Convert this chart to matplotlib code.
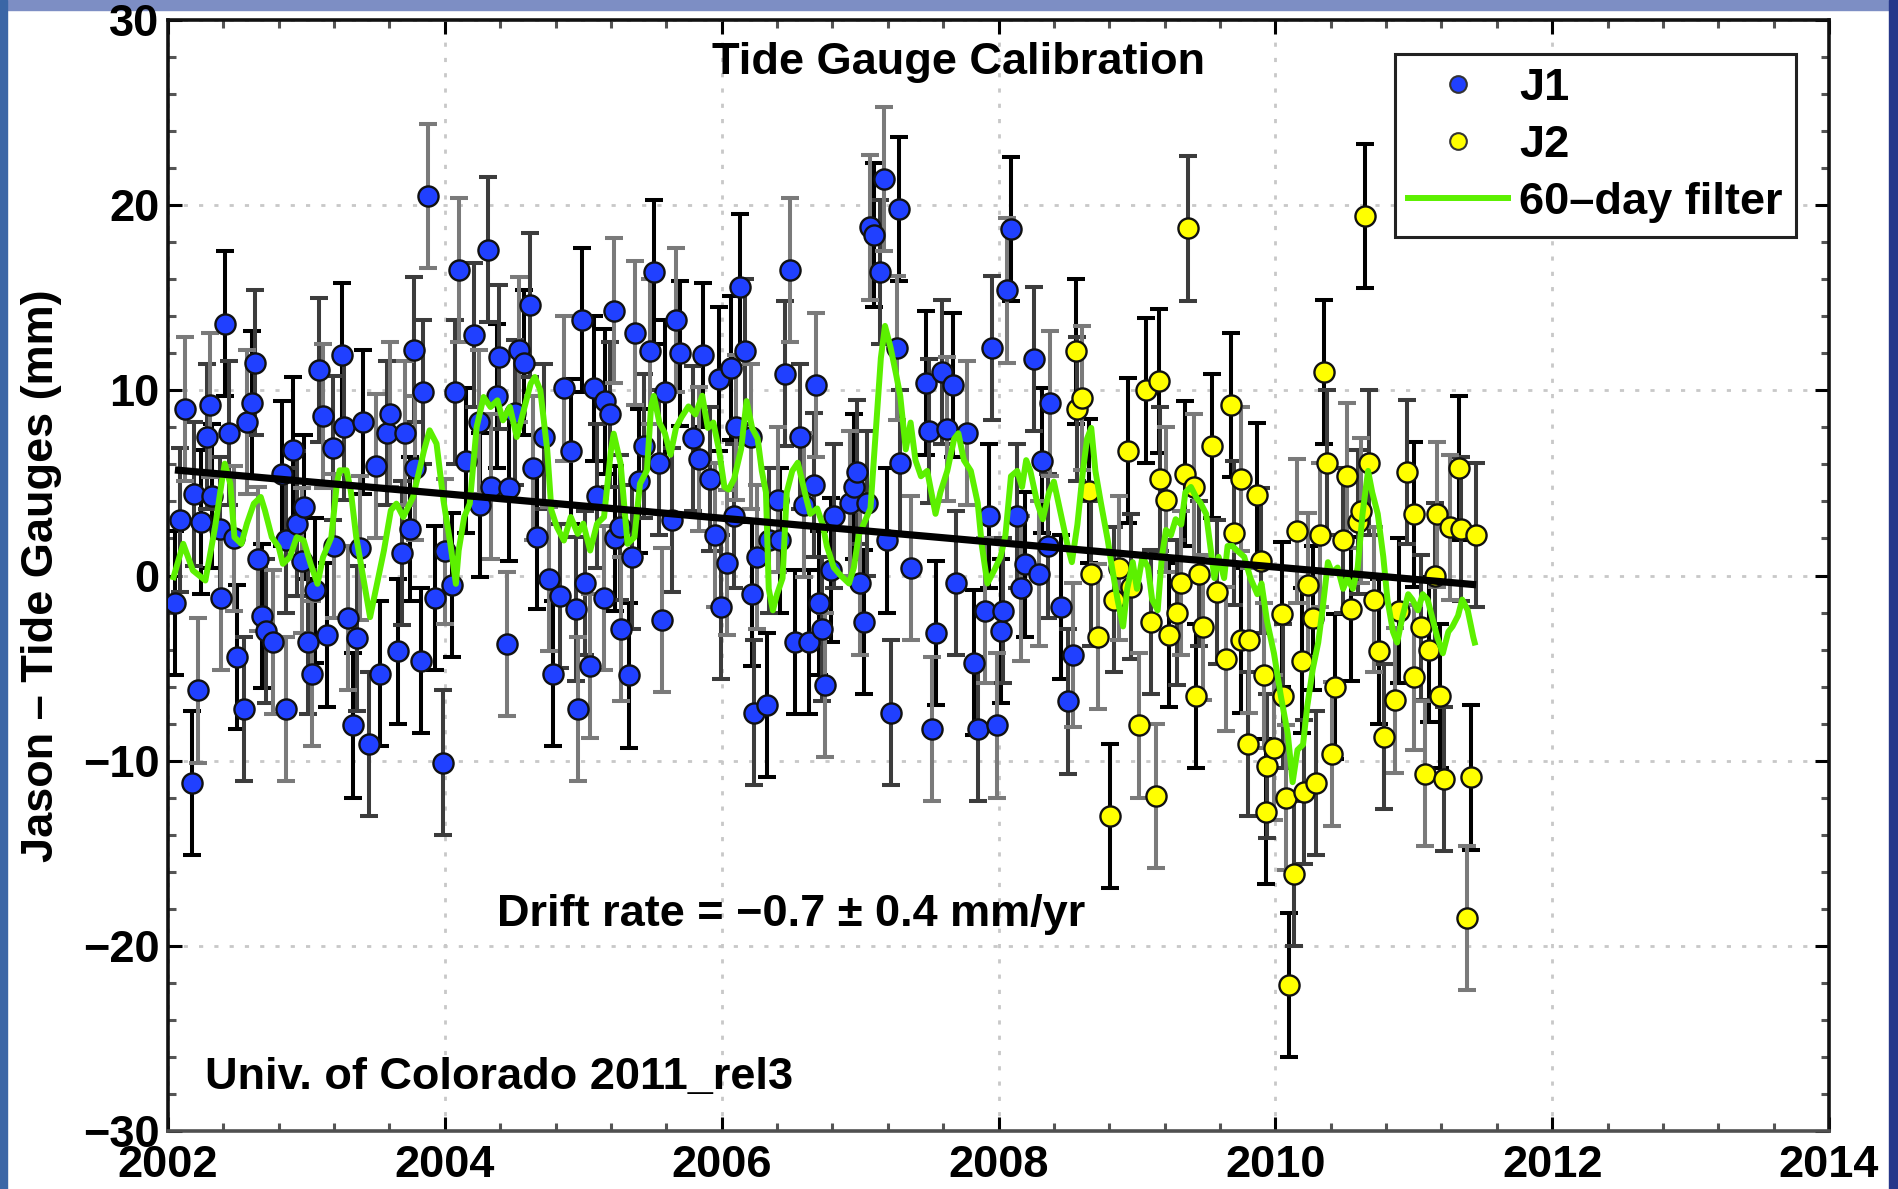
import matplotlib
matplotlib.use("Agg")
import matplotlib.pyplot as plt
from matplotlib.patches import Rectangle
from matplotlib.lines import Line2D
from matplotlib.ticker import MultipleLocator

# ---------------- data ----------------
j1_year = [2002.05, 2002.09, 2002.12, 2002.17, 2002.19, 2002.22, 2002.24, 2002.28, 2002.30, 2002.32,
           2002.375, 2002.385, 2002.41, 2002.44, 2002.48, 2002.50, 2002.55, 2002.57, 2002.61, 2002.63,
           2002.65, 2002.68, 2002.71, 2002.76, 2002.82, 2002.85, 2002.855, 2002.90, 2002.93, 2002.965,
           2002.98, 2003.01, 2003.04, 2003.06, 2003.09, 2003.12, 2003.15, 2003.19, 2003.20, 2003.255,
           2003.27, 2003.30, 2003.335, 2003.365, 2003.39, 2003.41, 2003.45, 2003.50, 2003.53, 2003.58,
           2003.605, 2003.665, 2003.69, 2003.715, 2003.75, 2003.775, 2003.785, 2003.825, 2003.845, 2003.88,
           2003.93, 2003.99, 2004.00, 2004.05, 2004.07, 2004.10, 2004.155, 2004.21, 2004.245, 2004.255,
           2004.315, 2004.33, 2004.375, 2004.39, 2004.45, 2004.46, 2004.51, 2004.535, 2004.575, 2004.615,
           2004.64, 2004.665, 2004.715, 2004.75, 2004.78, 2004.83, 2004.86, 2004.91, 2004.945, 2004.965,
           2004.99, 2005.015, 2005.05, 2005.075, 2005.10, 2005.15, 2005.16, 2005.195, 2005.22, 2005.23,
           2005.265, 2005.275, 2005.33, 2005.35, 2005.375, 2005.40, 2005.44, 2005.48, 2005.51, 2005.55,
           2005.57, 2005.59, 2005.64, 2005.67, 2005.70, 2005.79, 2005.835, 2005.865, 2005.915, 2005.955,
           2005.98, 2005.995, 2006.035, 2006.065, 2006.09, 2006.10, 2006.135, 2006.165, 2006.21, 2006.22,
           2006.23, 2006.255, 2006.33, 2006.34, 2006.41, 2006.425, 2006.46, 2006.495, 2006.53, 2006.565,
           2006.595, 2006.63, 2006.665, 2006.685, 2006.70, 2006.725, 2006.75, 2006.79, 2006.81, 2006.93,
           2006.955, 2006.98, 2007.00, 2007.03, 2007.05, 2007.075, 2007.10, 2007.145, 2007.17, 2007.195,
           2007.22, 2007.27, 2007.28, 2007.29, 2007.365, 2007.475, 2007.50, 2007.52, 2007.55, 2007.595,
           2007.625, 2007.67, 2007.69, 2007.775, 2007.82, 2007.85, 2007.90, 2007.93, 2007.955, 2007.99,
           2008.015, 2008.03, 2008.065, 2008.09, 2008.135, 2008.16, 2008.195, 2008.255, 2008.29, 2008.315,
           2008.355, 2008.37, 2008.45, 2008.50, 2008.535]
j1_val = [-1.5, 3.0, 9.0, -11.2, 4.4, -6.2, 2.9, 7.5, 9.2, 4.3,
          2.5, -1.2, 13.6, 7.7, 2.0, -4.4, -7.2, 8.3, 9.3, 11.5,
          0.9, -2.2, -3.0, -3.6, 5.5, 1.9, -7.2, 6.8, 2.8, 0.8,
          3.7, -3.6, -5.3, -0.8, 11.1, 8.6, -3.2, 6.9, 1.6, 11.9,
          8.0, -2.3, -8.1, -3.4, 1.5, 8.3, -9.1, 5.9, -5.3, 7.7,
          8.7, -4.1, 1.2, 7.7, 2.5, 12.2, 5.8, -4.6, 9.9, 20.5,
          -1.2, -10.1, 1.3, -0.5, 9.9, 16.5, 6.2, 13.0, 8.3, 3.8,
          17.6, 4.8, 9.7, 11.8, -3.7, 4.7, 8.8, 12.2, 11.5, 14.6,
          5.8, 2.1, 7.5, -0.2, -5.3, -1.1, 10.1, 6.7, -1.8, -7.2,
          13.8, -0.4, -4.9, 10.1, 4.3, -1.2, 9.4, 8.7, 14.3, 2.0,
          2.6, -2.9, -5.4, 1.0, 13.1, 5.1, 7.0, 12.1, 16.4, 6.1,
          -2.4, 9.9, 3.0, 13.8, 12.0, 7.4, 6.3, 11.9, 5.2, 2.2,
          10.6, -1.7, 0.7, 11.2, 3.2, 8.0, 15.6, 12.1, 7.5, -1.0,
          -7.4, 1.0, -7.0, 1.9, 4.1, 1.9, 10.9, 16.5, -3.6, 7.5,
          3.8, -3.6, 4.9, 10.3, -1.5, -2.9, -5.9, 0.3, 3.2, 3.9,
          4.8, 5.6, -0.4, -2.5, 3.9, 18.8, 18.4, 16.4, 21.4, 1.9,
          -7.4, 12.3, 19.8, 6.1, 0.4, 10.4, 7.8, -8.3, -3.1, 11.0,
          7.9, 10.3, -0.4, 7.7, -4.7, -8.3, -1.9, 3.2, 12.3, -8.1,
          -3.0, -1.9, 15.4, 18.7, 3.2, -0.7, 0.6, 11.7, 0.1, 6.2,
          1.6, 9.3, -1.7, -6.8, -4.3]

j2_year = [2008.558, 2008.57, 2008.606, 2008.654, 2008.666, 2008.72, 2008.806, 2008.835, 2008.87, 2008.937,
           2008.955, 2009.016, 2009.064, 2009.10, 2009.136, 2009.16, 2009.17, 2009.21, 2009.233, 2009.293,
           2009.317, 2009.346, 2009.37, 2009.413, 2009.426, 2009.45, 2009.474, 2009.54, 2009.582, 2009.64,
           2009.68, 2009.70, 2009.75, 2009.755, 2009.80, 2009.81, 2009.867, 2009.895, 2009.915, 2009.93,
           2009.94, 2009.99, 2010.05, 2010.055, 2010.077, 2010.10, 2010.137, 2010.16, 2010.19, 2010.21,
           2010.233, 2010.27, 2010.294, 2010.325, 2010.35, 2010.373, 2010.406, 2010.43, 2010.486, 2010.518,
           2010.546, 2010.595, 2010.62, 2010.65, 2010.68, 2010.716, 2010.75, 2010.783, 2010.865, 2010.896,
           2010.95, 2011.00, 2011.005, 2011.05, 2011.08, 2011.11, 2011.15, 2011.168, 2011.19, 2011.22,
           2011.26, 2011.33, 2011.34, 2011.385, 2011.414, 2011.45]
j2_val = [12.1, 9.0, 9.6, 4.55, 0.1, -3.3, -13.0, -1.3, 0.4, 6.75,
          -0.6, -8.1, 10.0, -2.5, -11.9, 10.5, 5.2, 4.1, -3.2, -2.0,
          -0.4, 5.5, 18.75, 4.8, -6.5, 0.1, -2.8, 7.0, -0.9, -4.5,
          9.2, 2.3, 5.2, -3.5, -9.1, -3.5, 4.35, 0.8, -5.4, -12.75,
          -10.3, -9.3, -2.1, -6.5, -12.0, -22.1, -16.1, 2.4, -4.6, -11.7,
          -0.5, -2.3, -11.2, 2.2, 11.0, 6.1, -9.65, -6.0, 1.9, 5.4,
          -1.8, 2.9, 3.5, 19.4, 6.1, -1.3, -4.1, -8.7, -6.75, -1.9,
          5.6, -5.5, 3.3, -2.8, -10.7, -4.0, 0.0, 3.3, -6.5, -11.0,
          2.6, 5.8, 2.5, -18.5, -10.9, 2.2]

filt_year = [2002.04, 2002.11, 2002.18, 2002.27, 2002.34, 2002.39, 2002.41, 2002.45, 2002.48, 2002.53,
             2002.57, 2002.62, 2002.67, 2002.70, 2002.75, 2002.80, 2002.83, 2002.88, 2002.93, 2002.98,
             2003.03, 2003.08, 2003.12, 2003.18, 2003.22, 2003.24, 2003.29, 2003.32, 2003.36, 2003.41,
             2003.46, 2003.51, 2003.56, 2003.61, 2003.65, 2003.70, 2003.77, 2003.85, 2003.89, 2003.94,
             2003.99, 2004.04, 2004.08, 2004.10, 2004.14, 2004.18, 2004.23, 2004.28, 2004.33, 2004.38,
             2004.42, 2004.47, 2004.52, 2004.57, 2004.62, 2004.65, 2004.69, 2004.74, 2004.77, 2004.81,
             2004.86, 2004.91, 2004.96, 2005.00, 2005.05, 2005.10, 2005.15, 2005.20, 2005.22, 2005.27,
             2005.32, 2005.37, 2005.41, 2005.46, 2005.49, 2005.51, 2005.55, 2005.59, 2005.63, 2005.67,
             2005.71, 2005.76, 2005.81, 2005.86, 2005.90, 2005.94, 2005.98, 2006.02, 2006.05, 2006.09,
             2006.14, 2006.18, 2006.22, 2006.26, 2006.29, 2006.32, 2006.34, 2006.37, 2006.40, 2006.44,
             2006.47, 2006.51, 2006.55, 2006.61, 2006.64, 2006.69, 2006.73, 2006.76, 2006.81, 2006.86,
             2006.92, 2006.955, 2006.99, 2007.075, 2007.11, 2007.15, 2007.18, 2007.22, 2007.26, 2007.29,
             2007.33, 2007.365, 2007.40, 2007.44, 2007.485, 2007.545, 2007.58, 2007.63, 2007.68, 2007.71,
             2007.75, 2007.80, 2007.85, 2007.88, 2007.92, 2007.97, 2008.015, 2008.05, 2008.09, 2008.135,
             2008.17, 2008.20, 2008.23, 2008.28, 2008.32, 2008.365, 2008.40, 2008.45, 2008.50, 2008.53,
             2008.57, 2008.61, 2008.64, 2008.67, 2008.70, 2008.74, 2008.79, 2008.82, 2008.86, 2008.90,
             2008.93, 2008.97, 2009.00, 2009.04, 2009.08, 2009.11, 2009.15, 2009.18, 2009.21, 2009.245,
             2009.28, 2009.32, 2009.35, 2009.39, 2009.43, 2009.46, 2009.50, 2009.53, 2009.56, 2009.59,
             2009.63, 2009.655, 2009.69, 2009.73, 2009.775, 2009.82, 2009.87, 2009.90, 2009.94, 2009.99,
             2010.04, 2010.09, 2010.125, 2010.16, 2010.20, 2010.23, 2010.27, 2010.31, 2010.34, 2010.38,
             2010.41, 2010.45, 2010.49, 2010.52, 2010.56, 2010.595, 2010.63, 2010.67, 2010.70, 2010.74,
             2010.78, 2010.81, 2010.85, 2010.88, 2010.92, 2010.96, 2010.99, 2011.03, 2011.065, 2011.10,
             2011.14, 2011.17, 2011.21, 2011.25, 2011.28, 2011.32, 2011.35, 2011.39, 2011.43, 2011.44]
filt_val = [-0.09, 1.71, 0.27, -0.27, 2.61, 5.14, 6.04, 4.96, 2.07, 1.71,
            2.8, 3.88, 4.24, 3.52, 2.07, 1.53, 0.63, 0.99, 2.07, 1.89,
            0.63, -0.45, 0.99, 2.07, 4.96, 5.68, 5.68, 4.6, 2.07, -0.09,
            -2.25, -0.45, 1.35, 3.52, 3.88, 3.16, 4.24, 6.76, 7.84, 7.12,
            4.06, 1.71, -0.45, 1.35, 3.16, 3.88, 8.02, 9.64, 9.1, 9.46,
            8.38, 9.1, 7.48, 8.92, 10.36, 10.72, 10.0, 6.76, 3.52, 2.61,
            1.89, 3.16, 2.25, 2.8, 1.35, 2.8, 3.16, 6.76, 7.66, 6.04,
            1.71, 2.07, 4.96, 5.68, 9.13, 9.7, 8.26, 7.68, 6.52, 7.97,
            8.55, 9.13, 8.7, 9.71, 7.97, 8.26, 6.81, 4.78, 4.64, 5.22,
            6.81, 9.42, 7.97, 7.39, 5.65, 4.49, -0.72, -1.88, -1.01, -0.14,
            4.49, 5.65, 6.09, 4.2, 3.33, 3.62, 2.75, 1.59, 0.43, 0.0,
            -0.43, 0.43, 2.17, 3.62, 7.39, 11.74, 13.48, 12.32, 10.87, 9.71,
            6.81, 8.26, 6.23, 5.36, 5.65, 3.33, 4.49, 5.65, 7.39, 7.68,
            6.23, 5.65, 3.91, 1.59, -0.43, 0.29, 1.01, 2.17, 5.36, 5.65,
            4.78, 6.23, 5.65, 3.91, 3.04, 4.49, 5.07, 3.33, 1.59, 0.72,
            2.75, 5.65, 7.39, 7.97, 5.65, 3.91, 1.88, 0.43, -1.3, -2.75,
            -0.72, 0.72, -0.72, 1.01, 0.43, -1.3, -1.88, 1.01, 2.46, 2.17,
            3.04, 2.75, 4.49, 4.78, 4.2, 3.91, 3.33, 1.59, -0.14, 1.01,
            -0.14, 1.59, 1.59, 1.3, 1.01, -0.14, -1.01, -0.43, -2.46, -4.2,
            -6.52, -8.55, -11.16, -9.42, -9.13, -7.1, -5.07, -3.62, -1.88, 0.72,
            0.14, 0.43, -0.72, -0.14, -0.72, 0.43, 3.33, 5.65, 4.49, 3.33,
            1.01, -1.3, -3.04, -3.62, -2.17, -1.01, -1.3, -1.88, -1.01, -1.3,
            -2.46, -3.33, -4.2, -3.04, -2.75, -2.17, -1.3, -1.88, -3.33, -3.62]

trend_year = [2002.05, 2011.45]
trend_val = [5.7, -0.5]
err_mm = 3.9

x_ticks = [2002, 2004, 2006, 2008, 2010, 2012, 2014]
y_ticks = [-30, -20, -10, 0, 10, 20, 30]

# ---------------- style ----------------
plt.rcParams['font.family'] = ['Liberation Sans', 'DejaVu Sans']
plt.rcParams['font.weight'] = 'bold'
FS = 32.5

BLUE = '#2040ff'
YELLOW = '#ffff00'
GREEN = '#5cf000'
bar_colors = ['#000000', '#3c3c3c', '#7a7a7a']

W, H = 1899, 1189
fig = plt.figure(figsize=(W / 100, H / 100), dpi=100)
fig.patch.set_facecolor('white')

# blue slide border
fig.add_artist(Rectangle((0, 1 - 10 / H), 1, 10 / H, transform=fig.transFigure,
                         color='#7d8ec4', zorder=0))
fig.add_artist(Rectangle((0, 0), 7 / W, 1, transform=fig.transFigure,
                         color='#3b66a6', zorder=0))
fig.add_artist(Rectangle((1 - 10 / W, 0), 10 / W, 1, transform=fig.transFigure,
                         color='#26378a', zorder=0))

ax = fig.add_axes([168 / W, 58 / H, 1661 / W, 1111 / H])
ax.set_xlim(2002, 2014)
ax.set_ylim(-30, 30)


def draw_bars(xs, ys):
    for k, c in enumerate(bar_colors):
        ax.errorbar(xs[k::3], ys[k::3], yerr=err_mm, fmt='none', ecolor=c,
                    elinewidth=2.9, capsize=6.5, capthick=2.9, zorder=2)


draw_bars(j1_year, j1_val)
draw_bars(j2_year, j2_val)
ax.plot(j1_year, j1_val, 'o', ms=14.5, mfc=BLUE, mec='#111111', mew=1.7, zorder=3)
ax.plot(j2_year, j2_val, 'o', ms=14.5, mfc=YELLOW, mec='#111111', mew=1.7, zorder=3)
ax.plot(filt_year, filt_val, '-', color=GREEN, lw=4.3, zorder=4)
ax.plot(trend_year, trend_val, '-', color='black', lw=5.2, zorder=5, solid_capstyle='butt')

# axes styling
ax.set_xticks(x_ticks)
ax.set_yticks(y_ticks)
ax.xaxis.set_minor_locator(MultipleLocator(0.4))
ax.yaxis.set_minor_locator(MultipleLocator(2))
ax.tick_params(which='both', direction='in', top=True, right=True, width=2.2, labelsize=FS)
ax.tick_params(which='major', length=10)
ax.tick_params(which='minor', length=6, color='#555555')
ax.tick_params(axis='x', pad=10)
ax.tick_params(axis='y', pad=6)
for lab in ax.get_xticklabels() + ax.get_yticklabels():
    lab.set_fontweight('bold')
for s in ax.spines.values():
    s.set_linewidth(2.6)
    s.set_color('#111111')
ax.spines['bottom'].set_color('#505050')
ax.grid(True, which='major', color='#c8c8c8', linestyle=(0, (1.5, 4)), lw=2)
ax.set_axisbelow(True)

ax.text(2007.71, 27.7, 'Tide Gauge Calibration', ha='center', va='center',
        fontsize=FS, fontweight='bold')
ax.text(2006.5, -18.3, 'Drift rate = \u22120.7 \u00b1 0.4 mm/yr', ha='center', va='center',
        fontsize=FS, fontweight='bold')
ax.text(2002.27, -27.1, 'Univ. of Colorado 2011_rel3', ha='left', va='center',
        fontsize=FS, fontweight='bold')
ax.text(-0.0759, 0.5, 'Jason \u2013 Tide Gauges (mm)', transform=ax.transAxes,
        rotation=90, ha='center', va='center', fontsize=FS, fontweight='bold')

handles = [Line2D([], [], marker='o', ls='none', ms=12, mfc=BLUE, mec='#333333', mew=1.5),
           Line2D([], [], marker='o', ls='none', ms=12, mfc=YELLOW, mec='#333333', mew=1.5),
           Line2D([], [], color=GREEN, lw=4.3)]
leg = ax.legend(handles, ['J1', 'J2', '60\u2013day filter'], loc='upper right',
                bbox_to_anchor=(0.9801, 0.9694), borderaxespad=0, fancybox=False,
                framealpha=1, edgecolor='#222222', prop={'size': FS, 'weight': 'bold'},
                handlelength=2.2, handletextpad=0.25, labelspacing=0.36, borderpad=0.3)
leg.get_frame().set_linewidth(2.2)
leg.set_zorder(10)

fig.savefig('out.png', dpi=100, facecolor=fig.get_facecolor())
